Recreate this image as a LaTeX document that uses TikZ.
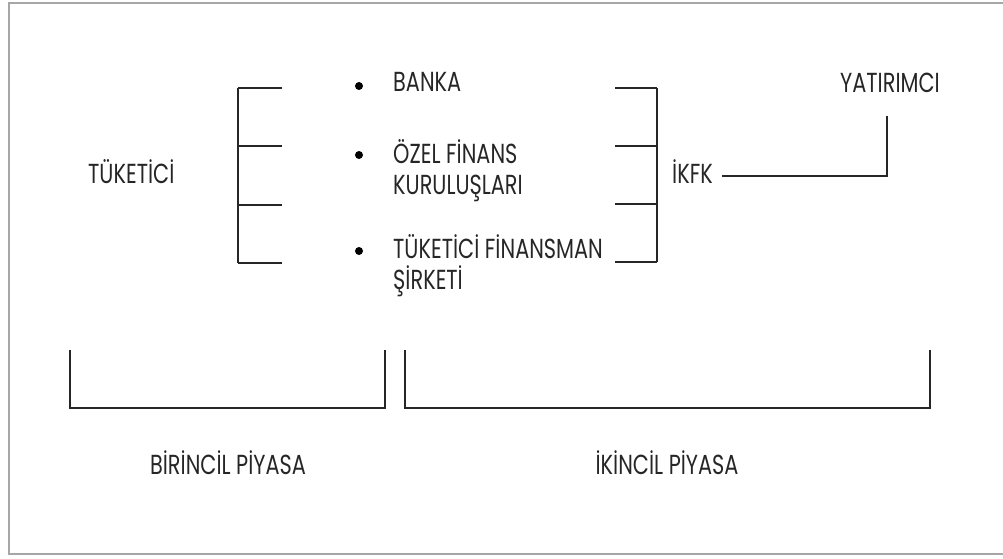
\documentclass[tikz,border=0pt]{standalone}
\usepackage{fontspec}
\setmainfont{Poppins}
\usetikzlibrary{positioning}

\newcommand{\tallt}[1]{\scalebox{0.97}[1.28]{#1}}

\begin{document}
\begin{tikzpicture}[
  x=1pt, y=-1pt,
  lbl/.style={font=\fontsize{21.5}{25}\selectfont, inner sep=0pt, anchor=base west, text=black!85},
  dot/.style={circle, fill=black, inner sep=0pt, minimum size=8pt},
  bline/.style={line width=1.8pt, black!85},
  frameline/.style={line width=2pt, black!35}]

  \useasboundingbox (0,0) rectangle (1003,559);
  % outer frame
  \draw[frameline] (1003,3) -- (9,3) -- (9,554) -- (1003,554);

  % left side
  \node[lbl] (tuk) at (88,183) {\tallt{TÜKETİCİ}};
  \coordinate (la) at (238,88);
  \coordinate (lb) at (238,146);
  \coordinate (lc) at (238,205);
  \coordinate (ld) at (238,263);
  \draw[bline] (la) -- (ld);
  \draw[bline] (la) -- ++(44,0);
  \draw[bline] (lb) -- ++(44,0);
  \draw[bline] (lc) -- ++(44,0);
  \draw[bline] (ld) -- ++(44,0);

  % middle list
  \node[dot] (d1) at (359,86) {};
  \node[dot] (d2) at (359,155) {};
  \node[dot] (d3) at (359,251) {};
  \node[lbl] (banka) at (393,92) {\tallt{BANKA}};
  \node[lbl] (ozel) at (393,163) {\tallt{ÖZEL FİNANS}};
  \node[lbl] (kurulus) at (393,194) {\tallt{KURULUŞLARI}};
  \node[lbl] (tfin) at (393,258) {\tallt{TÜKETİCİ FİNANSMAN}};
  \node[lbl] (sirket) at (393,289) {\tallt{ŞİRKETİ}};

  % right side
  \coordinate (ra) at (657,88);
  \coordinate (rb) at (657,146);
  \coordinate (rc) at (657,204);
  \coordinate (rd) at (657,262);
  \draw[bline] (ra) -- (rd);
  \draw[bline] (ra) -- ++(-42,0);
  \draw[bline] (rb) -- ++(-42,0);
  \draw[bline] (rc) -- ++(-42,0);
  \draw[bline] (rd) -- ++(-42,0);
  \node[lbl] (ikfk) at (672,183) {\tallt{İKFK}};
  \node[lbl, anchor=base] (yat) at (890,93) {\tallt{YATIRIMCI}};
  \coordinate (yend) at (887,116);
  \draw[bline] (ikfk.base east) ++(9,-7) coordinate (ks) -- (ks -| yend) -- (yend);

  % markets
  \coordinate (p1) at (70,350);
  \coordinate (p2) at (385,350);
  \coordinate (s1) at (405,350);
  \coordinate (s2) at (930,350);
  \draw[bline] (p1) -- ++(0,58) -| (p2);
  \draw[bline] (s1) -- ++(0,58) -| (s2);
  \node[lbl, anchor=base] (birincil) at (228,474) {\tallt{BİRİNCİL PİYASA}};
  \node[lbl, anchor=base] (ikincil) at (667,474) {\tallt{İKİNCİL PİYASA}};
\end{tikzpicture}
\end{document}
